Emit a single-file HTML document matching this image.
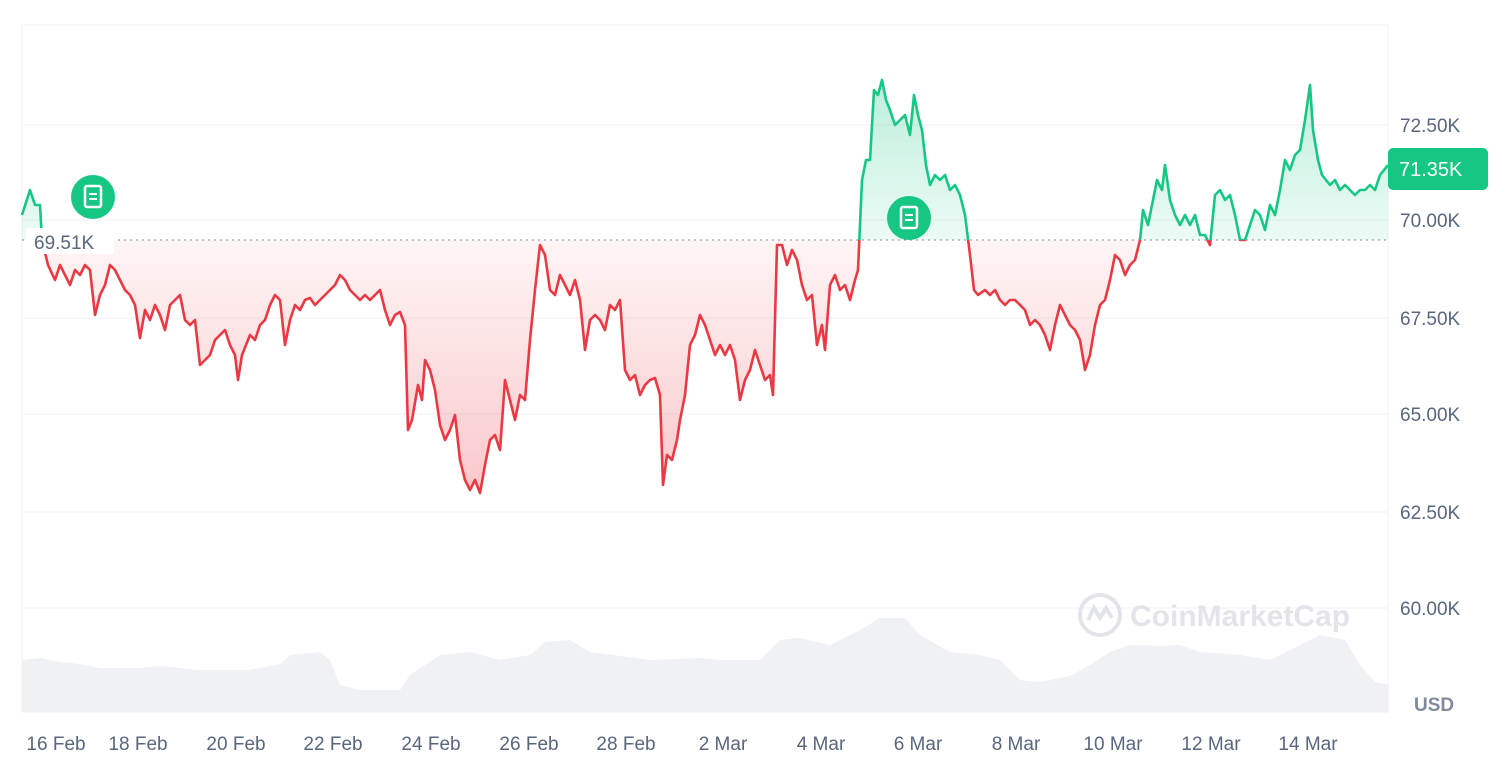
<!DOCTYPE html>
<html><head><meta charset="utf-8"><style>
html,body{margin:0;padding:0;background:#fff;}
svg{display:block;font-family:"Liberation Sans",sans-serif;}
</style></head><body>
<svg width="1505" height="760" viewBox="0 0 1505 760" xmlns="http://www.w3.org/2000/svg" xmlns:xlink="http://www.w3.org/1999/xlink">
<defs>
<clipPath id="above"><rect x="0" y="0" width="1388" height="240"/></clipPath>
<clipPath id="below"><rect x="0" y="240" width="1388" height="500"/></clipPath>
<linearGradient id="gg" gradientUnits="userSpaceOnUse" x1="0" y1="70" x2="0" y2="240"><stop offset="0" stop-color="#16c784" stop-opacity="0.3"/><stop offset="1" stop-color="#16c784" stop-opacity="0.08"/></linearGradient>
<linearGradient id="rg" gradientUnits="userSpaceOnUse" x1="0" y1="240" x2="0" y2="495"><stop offset="0" stop-color="#ea3943" stop-opacity="0.05"/><stop offset="1" stop-color="#ea3943" stop-opacity="0.28"/></linearGradient>
<path id="pf" d="M22,240 L22,215 30,190 35,205 40,205 42,240 48,265 55,280 60,265 65,275 70,285 75,270 80,275 85,265 90,270 95,315 100,295 105,285 110,265 115,270 120,280 125,290 130,295 135,305 140,338 145,310 150,320 155,305 160,315 165,330 170,305 175,300 180,295 185,320 190,325 195,320 200,365 205,360 210,355 215,340 220,335 225,330 230,345 235,355 238,380 242,355 250,335 255,340 260,325 265,320 270,305 275,295 280,300 285,345 290,320 295,305 300,310 305,300 310,298 315,305 320,300 325,295 330,290 335,285 340,275 345,280 350,290 355,295 360,300 365,295 370,300 375,295 380,290 385,310 390,325 395,315 400,312 405,325 408,430 412,420 418,385 422,400 425,360 430,370 435,390 440,425 445,440 450,430 455,415 460,460 465,480 470,490 475,480 480,493 485,465 490,440 495,435 500,450 505,380 510,400 515,420 520,395 525,400 530,340 535,290 540,245 545,255 550,290 555,295 560,275 565,285 570,295 575,280 580,300 585,350 590,320 595,315 600,320 605,330 610,305 615,310 620,300 625,370 630,380 635,375 640,395 645,385 650,380 655,378 660,395 663,485 667,455 672,460 677,440 680,420 685,395 690,345 695,335 700,315 705,325 710,340 715,355 720,345 725,355 730,345 735,360 740,400 745,380 750,370 755,350 760,365 765,380 770,375 773,395 777,245 782,245 787,265 792,250 797,260 802,285 807,300 812,295 817,345 822,325 825,350 830,285 835,275 840,290 845,285 850,300 855,280 858,270 862,180 866,160 870,160 874,90 878,95 882,80 886,100 890,110 895,125 900,120 905,115 910,135 914,95 918,115 922,130 926,165 930,185 935,175 940,180 945,175 950,190 955,185 960,195 965,215 970,255 974,290 978,295 985,290 990,295 995,290 1000,300 1005,305 1010,300 1015,300 1020,305 1025,310 1030,325 1035,320 1040,325 1045,335 1050,350 1055,325 1060,305 1065,315 1070,325 1075,330 1080,340 1085,370 1090,355 1095,325 1100,305 1105,300 1110,280 1115,255 1120,260 1125,275 1130,265 1135,260 1140,240 1143,210 1148,225 1152,205 1157,180 1162,190 1165,165 1170,200 1175,215 1180,225 1185,215 1190,225 1195,215 1200,235 1205,235 1210,245 1215,195 1220,190 1225,200 1230,195 1235,215 1240,240 1245,240 1250,225 1255,210 1260,215 1265,230 1270,205 1275,215 1280,190 1285,160 1290,170 1295,155 1300,150 1305,120 1310,85 1313,130 1318,160 1322,175 1326,180 1330,185 1335,180 1340,190 1345,185 1350,190 1355,195 1360,190 1365,190 1370,185 1375,190 1380,175 1388,165 L1388,240 Z"/>
<path id="pl" d="M22,215 30,190 35,205 40,205 42,240 48,265 55,280 60,265 65,275 70,285 75,270 80,275 85,265 90,270 95,315 100,295 105,285 110,265 115,270 120,280 125,290 130,295 135,305 140,338 145,310 150,320 155,305 160,315 165,330 170,305 175,300 180,295 185,320 190,325 195,320 200,365 205,360 210,355 215,340 220,335 225,330 230,345 235,355 238,380 242,355 250,335 255,340 260,325 265,320 270,305 275,295 280,300 285,345 290,320 295,305 300,310 305,300 310,298 315,305 320,300 325,295 330,290 335,285 340,275 345,280 350,290 355,295 360,300 365,295 370,300 375,295 380,290 385,310 390,325 395,315 400,312 405,325 408,430 412,420 418,385 422,400 425,360 430,370 435,390 440,425 445,440 450,430 455,415 460,460 465,480 470,490 475,480 480,493 485,465 490,440 495,435 500,450 505,380 510,400 515,420 520,395 525,400 530,340 535,290 540,245 545,255 550,290 555,295 560,275 565,285 570,295 575,280 580,300 585,350 590,320 595,315 600,320 605,330 610,305 615,310 620,300 625,370 630,380 635,375 640,395 645,385 650,380 655,378 660,395 663,485 667,455 672,460 677,440 680,420 685,395 690,345 695,335 700,315 705,325 710,340 715,355 720,345 725,355 730,345 735,360 740,400 745,380 750,370 755,350 760,365 765,380 770,375 773,395 777,245 782,245 787,265 792,250 797,260 802,285 807,300 812,295 817,345 822,325 825,350 830,285 835,275 840,290 845,285 850,300 855,280 858,270 862,180 866,160 870,160 874,90 878,95 882,80 886,100 890,110 895,125 900,120 905,115 910,135 914,95 918,115 922,130 926,165 930,185 935,175 940,180 945,175 950,190 955,185 960,195 965,215 970,255 974,290 978,295 985,290 990,295 995,290 1000,300 1005,305 1010,300 1015,300 1020,305 1025,310 1030,325 1035,320 1040,325 1045,335 1050,350 1055,325 1060,305 1065,315 1070,325 1075,330 1080,340 1085,370 1090,355 1095,325 1100,305 1105,300 1110,280 1115,255 1120,260 1125,275 1130,265 1135,260 1140,240 1143,210 1148,225 1152,205 1157,180 1162,190 1165,165 1170,200 1175,215 1180,225 1185,215 1190,225 1195,215 1200,235 1205,235 1210,245 1215,195 1220,190 1225,200 1230,195 1235,215 1240,240 1245,240 1250,225 1255,210 1260,215 1265,230 1270,205 1275,215 1280,190 1285,160 1290,170 1295,155 1300,150 1305,120 1310,85 1313,130 1318,160 1322,175 1326,180 1330,185 1335,180 1340,190 1345,185 1350,190 1355,195 1360,190 1365,190 1370,185 1375,190 1380,175 1388,165"/>
</defs>
<rect x="22" y="25" width="1366" height="687" fill="none" stroke="#eff2f5"/>
<g stroke="#eff2f5" stroke-width="1">
<line x1="22" y1="125" x2="1388" y2="125"/><line x1="22" y1="220" x2="1388" y2="220"/>
<line x1="22" y1="318" x2="1388" y2="318"/><line x1="22" y1="414" x2="1388" y2="414"/>
<line x1="22" y1="512" x2="1388" y2="512"/><line x1="22" y1="608" x2="1388" y2="608"/>
</g>
<path d="M22,712 L22,660 40,658 60,662 80,664 100,668 140,668 160,666 200,670 250,670 280,664 290,655 320,652 330,660 340,685 360,690 400,690 410,675 440,655 470,652 500,660 530,655 545,642 570,640 590,652 620,656 650,660 700,658 720,660 760,660 780,640 800,638 830,645 860,630 880,618 905,618 920,635 950,652 980,655 1000,660 1020,680 1040,682 1070,676 1090,665 1110,652 1130,645 1160,646 1180,645 1200,652 1240,655 1270,660 1300,645 1320,635 1345,640 1360,665 1375,682 1388,685 L1388,712 Z" fill="#eff1f5"/>
<g opacity="0.9">
<circle cx="1100" cy="615" r="20" fill="none" stroke="#dfe2e8" stroke-width="4"/>
<path d="M1088,620 l6,-12 6,10 6,-10 6,10" fill="none" stroke="#dfe2e8" stroke-width="4"/>
<text x="1130" y="626" font-size="30" font-weight="bold" fill="#dfe2e8">CoinMarketCap</text>
</g>
<g clip-path="url(#above)"><use href="#pf" xlink:href="#pf" fill="url(#gg)"/></g>
<g clip-path="url(#below)"><use href="#pf" xlink:href="#pf" fill="url(#rg)"/></g>
<g clip-path="url(#above)"><use href="#pl" xlink:href="#pl" fill="none" stroke="#16c784" stroke-width="2.6" stroke-linejoin="round"/></g>
<g clip-path="url(#below)"><use href="#pl" xlink:href="#pl" fill="none" stroke="#ea3943" stroke-width="2.6" stroke-linejoin="round"/></g>
<line x1="22" y1="240" x2="1388" y2="240" stroke="#808a9d" stroke-dasharray="2,4" stroke-width="1"/>
<rect x="26" y="228" width="88" height="26" fill="#fff"/>
<text x="34" y="249" font-size="19" fill="#58667e">69.51K</text>
<circle cx="93" cy="197" r="22" fill="#16c784"/>
<rect x="85" y="186" width="16" height="21" rx="2" fill="none" stroke="#fff" stroke-width="2.5"/>
<line x1="89" y1="194" x2="97" y2="194" stroke="#fff" stroke-width="2"/><line x1="89" y1="199" x2="97" y2="199" stroke="#fff" stroke-width="2"/>
<circle cx="909" cy="218" r="22" fill="#16c784"/>
<rect x="901" y="207" width="16" height="21" rx="2" fill="none" stroke="#fff" stroke-width="2.5"/>
<line x1="905" y1="215" x2="913" y2="215" stroke="#fff" stroke-width="2"/><line x1="905" y1="220" x2="913" y2="220" stroke="#fff" stroke-width="2"/>
<g font-size="19" fill="#58667e">
<text x="1400" y="132">72.50K</text><text x="1400" y="227">70.00K</text>
<text x="1400" y="325">67.50K</text><text x="1400" y="421">65.00K</text>
<text x="1400" y="519">62.50K</text><text x="1400" y="615">60.00K</text>
</g>
<rect x="1388" y="148" width="100" height="42" rx="5" fill="#16c784"/>
<text x="1399" y="176" font-size="20" fill="#fff">71.35K</text>
<text x="1414" y="711" font-size="19" font-weight="bold" fill="#808a9d">USD</text>
<g font-size="19" fill="#58667e" text-anchor="middle">
<text x="56" y="750">16 Feb</text><text x="138" y="750">18 Feb</text><text x="236" y="750">20 Feb</text>
<text x="333" y="750">22 Feb</text><text x="431" y="750">24 Feb</text><text x="529" y="750">26 Feb</text>
<text x="626" y="750">28 Feb</text><text x="723" y="750">2 Mar</text><text x="821" y="750">4 Mar</text>
<text x="918" y="750">6 Mar</text><text x="1016" y="750">8 Mar</text><text x="1113" y="750">10 Mar</text>
<text x="1211" y="750">12 Mar</text><text x="1308" y="750">14 Mar</text>
</g>
</svg>
</body></html>
